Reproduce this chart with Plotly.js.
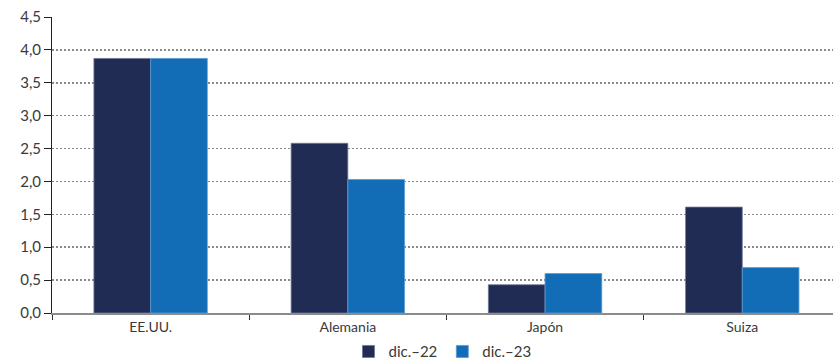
<!DOCTYPE html>
<html>
<head>
<meta charset="utf-8">
<script src="https://cdn.plot.ly/plotly-3.0.1.min.js"></script>
<style>
  html, body { margin: 0; padding: 0; background: #fff; }
  #chart { width: 833px; height: 363px; }
</style>
</head>
<body>
<div id="chart"></div>
<script>
// Countries on the x axis
const categories = ['EE.UU.', 'Alemania', 'Japón', 'Suiza'];
// Values at December 2022 and December 2023
const dic22 = [3.87, 2.58, 0.43, 1.61];
const dic23 = [3.87, 2.03, 0.60, 0.69];
// Series names
const seriesNames = ['dic.–22', 'dic.–23'];
// Y-axis tick values
const yTicks = [0, 0.5, 1, 1.5, 2, 2.5, 3, 3.5, 4, 4.5];

const fam = 'Lato, Open Sans, sans-serif';
const txt = '#3a3a3a';

const traces = [
  {
    type: 'bar', name: seriesNames[0], x: categories, y: dic22,
    marker: { color: '#212c55', line: { color: '#6f7896', width: 0.8 } },
    hoverinfo: 'skip'
  },
  {
    type: 'bar', name: seriesNames[1], x: categories, y: dic23,
    marker: { color: '#126db6', line: { color: '#5c9ad0', width: 0.8 } },
    hoverinfo: 'skip'
  }
];

const layout = {
  width: 833, height: 363,
  margin: { l: 52, r: 0, t: 17, b: 50, autoexpand: false },
  paper_bgcolor: '#fff', plot_bgcolor: '#fff',
  font: { family: fam, size: 14, color: txt },
  separators: ',.',
  barmode: 'group',
  bargap: 0.425,
  bargroupgap: 0,
  showlegend: true,
  legend: {
    orientation: 'h', x: 0.5, xanchor: 'center',
    yref: 'paper', y: -0.075, yanchor: 'top',
    font: { family: fam, size: 15, color: txt },
    itemwidth: 30, traceorder: 'normal', tracegroupgap: 0,
    bgcolor: 'rgba(0,0,0,0)'
  },
  xaxis: {
    type: 'category',
    range: [-0.5, 3.46],
    showgrid: false,
    showline: true, linecolor: '#8c8c8c', linewidth: 2,
    ticks: 'outside', tickson: 'boundaries', ticklen: 5, tickcolor: '#333', tickwidth: 1,
    tickfont: { family: fam, size: 14, color: txt },
    zeroline: false, automargin: false
  },
  yaxis: {
    range: [0, 4.5],
    tickvals: yTicks,
    tickformat: '.1f',
    showline: true, linecolor: '#222', linewidth: 1,
    ticks: 'outside', ticklen: 7, tickcolor: '#222', tickwidth: 1,
    showgrid: true, gridcolor: '#8a8a8a', griddash: '2px,2px', gridwidth: 1.5,
    zeroline: false, automargin: false,
    tickfont: { family: fam, size: 15, color: txt }
  }
};

Plotly.newPlot('chart', traces, layout, { displayModeBar: false, staticPlot: true });
</script>
</body>
</html>
